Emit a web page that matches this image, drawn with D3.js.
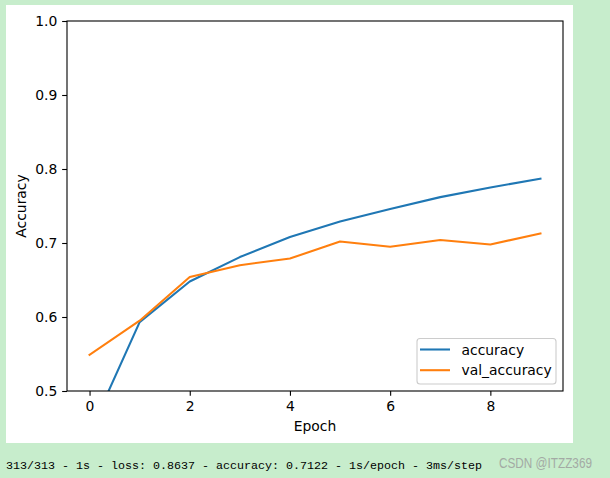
<!DOCTYPE html>
<html><head><meta charset="utf-8">
<script src="https://cdn.jsdelivr.net/npm/d3@7"></script>
<style>body{margin:0;background:#c7edcc;}svg{display:block;}</style>
</head><body>
<script>
const epochs = [0,1,2,3,4,5,6,7,8,9];
const accuracy = [0.443,0.593,0.648,0.681,0.708,0.729,0.746,0.762,0.775,0.787];
const valAccuracy = [0.549,0.595,0.654,0.670,0.679,0.702,0.695,0.704,0.698,0.713];
const xTicks = [0,2,4,6,8];
const yTicks = [0.5,0.6,0.7,0.8,0.9,1.0];
const seriesNames = ["accuracy","val_accuracy"];
const colors = ["#1f77b4","#ff7f0e"];
const logText = "313/313 - 1s - loss: 0.8637 - accuracy: 0.7122 - 1s/epoch - 3ms/step";
const watermark = "CSDN @ITZZ369";

const W=610,H=478;
const svg=d3.select("body").append("svg").attr("width",W).attr("height",H);
svg.append("rect").attr("width",W).attr("height",H).attr("fill","#c7edcc");
svg.append("rect").attr("x",6).attr("y",5).attr("width",567).attr("height",438).attr("fill","#ffffff");

const L=67,R=563,T=21,B=391;
const x=d3.scaleLinear().domain([-0.45,9.45]).range([L,R]);
const y=d3.scaleLinear().domain([0.5,1.0]).range([B,T]);
const font="DejaVu Sans";
const fs=13.9;

const defs=svg.append("defs");
defs.append("clipPath").attr("id","clip").append("rect").attr("x",L).attr("y",T).attr("width",R-L).attr("height",B-T);

const line=d3.line().x((d,i)=>x(epochs[i])).y(d=>y(d));
[accuracy,valAccuracy].forEach((s,k)=>{
  svg.append("path").datum(s).attr("d",line).attr("fill","none")
    .attr("stroke",colors[k]).attr("stroke-width",2.08).attr("stroke-linecap","square")
    .attr("stroke-linejoin","round").attr("clip-path","url(#clip)");
});

const xa=svg.append("g").attr("transform",`translate(0,${B})`)
  .call(d3.axisBottom(x).tickValues(xTicks).tickFormat(d3.format("d")).tickSize(4.86).tickPadding(4.86));
const ya=svg.append("g").attr("transform",`translate(${L},0)`)
  .call(d3.axisLeft(y).tickValues(yTicks).tickFormat(d3.format(".1f")).tickSize(4.86).tickPadding(4.86));
[xa,ya].forEach(g=>{
  g.select(".domain").remove();
  g.selectAll(".tick line").attr("stroke","#000").attr("stroke-width",1.1);
  g.selectAll(".tick text").attr("font-family",font).attr("font-size",fs).attr("fill","#000");
});
svg.append("rect").attr("x",L).attr("y",T).attr("width",R-L).attr("height",B-T)
  .attr("fill","none").attr("stroke","#000").attr("stroke-width",1.1);

svg.append("text").attr("x",(L+R)/2).attr("y",431).attr("text-anchor","middle")
  .attr("font-family",font).attr("font-size",fs).text("Epoch");
svg.append("text").attr("transform",`translate(26,${(T+B)/2}) rotate(-90)`).attr("text-anchor","middle")
  .attr("font-family",font).attr("font-size",fs).text("Accuracy");

const lg=svg.append("g");
lg.append("rect").attr("x",417).attr("y",338.5).attr("width",139).attr("height",45.5).attr("rx",3)
  .attr("fill","#fff").attr("fill-opacity",0.8).attr("stroke","#cccccc").attr("stroke-width",1.1);
seriesNames.forEach((n,i)=>{
  const yy=349.5+i*20.7;
  lg.append("line").attr("x1",420).attr("x2",450).attr("y1",yy).attr("y2",yy)
    .attr("stroke",colors[i]).attr("stroke-width",2.08);
  lg.append("text").attr("x",461.5).attr("y",yy+5).attr("font-family",font).attr("font-size",fs).text(n);
});

svg.append("text").attr("x",6).attr("y",468.5).attr("font-family","Liberation Mono").attr("font-size",11.6)
  .attr("textLength",476).attr("lengthAdjust","spacingAndGlyphs").attr("fill","#000").text(logText);
svg.append("text").attr("x",499).attr("y",468).attr("font-family","Liberation Sans").attr("font-size",14)
  .attr("textLength",93).attr("lengthAdjust","spacingAndGlyphs")
  .attr("fill","#a3aaa4").text(watermark);
</script>
</body></html>
